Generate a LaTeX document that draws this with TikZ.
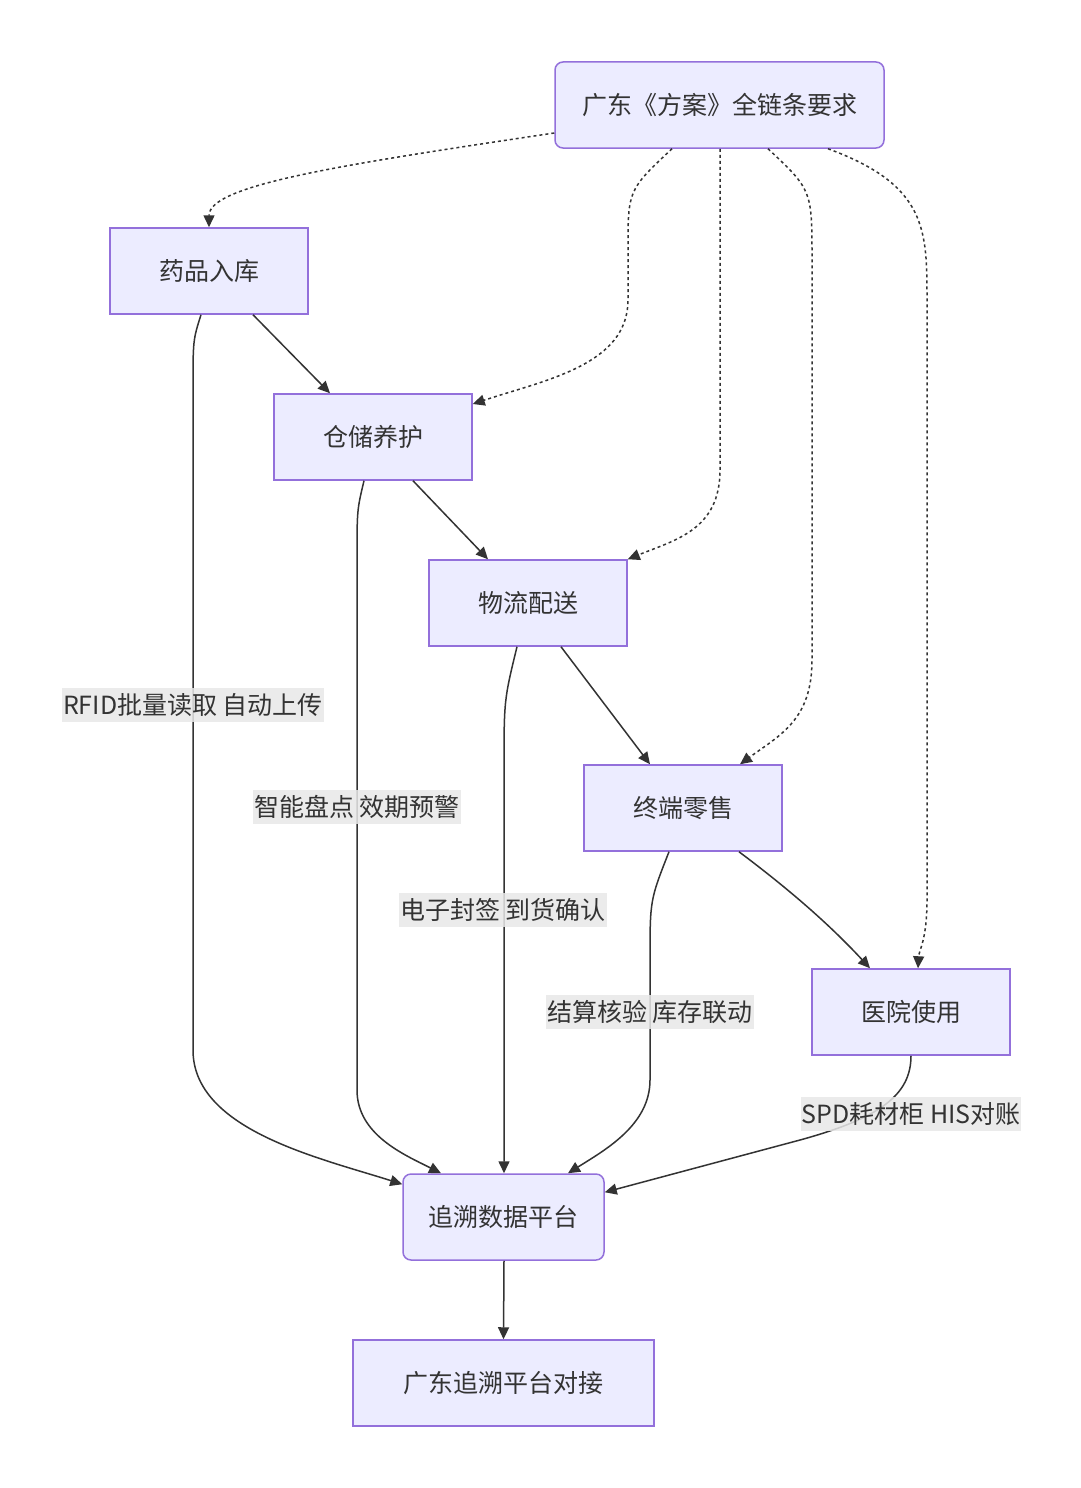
\documentclass[tikz,border=0pt]{standalone}
\usepackage{fontspec}
\newfontfamily\cjk{Noto Sans CJK SC}
\usetikzlibrary{arrows.meta}
\definecolor{boxfill}{HTML}{ECECFF}
\definecolor{boxline}{HTML}{9370DB}
\definecolor{linegray}{HTML}{333333}
\definecolor{lblfill}{HTML}{E8E8E8}
\tikzset{
  stepbox/.style={draw=boxline, fill=boxfill, line width=1.5pt, minimum width=198pt,
    minimum height=86pt, inner sep=0pt, text=linegray, font=\cjk\fontsize{25}{30}\selectfont},
  roundbox/.style={stepbox, rounded corners=8pt},
  flow/.style={draw=linegray, line width=1.5pt, -{Triangle[length=12pt,width=11pt]}},
  dotflow/.style={flow, dash pattern=on 3pt off 3pt},
  lbl/.style={fill=lblfill, fill opacity=0.85, text opacity=1, text=linegray,
    inner xsep=1pt, inner ysep=5pt, font=\cjk\fontsize{25}{30}\selectfont}
}
\begin{document}
\begin{tikzpicture}[x=1pt, y=-1pt]
  \useasboundingbox[fill=white] (0,0) rectangle (1080,1488);

  % 节点
  \node[roundbox, minimum width=329pt] (req) at (719.5,105) {广东《方案》全链条要求};
  \node[stepbox] (ruku) at (209,271) {药品入库};
  \node[stepbox] (cangchu) at (373,437) {仓储养护};
  \node[stepbox] (wuliu) at (528,603) {物流配送};
  \node[stepbox] (lingshou) at (683,808) {终端零售};
  \node[stepbox] (yiyuan) at (911,1012) {医院使用};
  \node[roundbox, minimum width=201pt] (pingtai) at (503.5,1217) {追溯数据平台};
  \node[stepbox, minimum width=301pt] (duijie) at (503.5,1383) {广东追溯平台对接};

  % 方案要求（虚线）
  \draw[dotflow] ([yshift=-28pt]req.west) .. controls (340,165) and (209,185) .. (ruku.north);
  \draw[dotflow] ([xshift=-47.5pt]req.south) .. controls (628,190) .. (628,250) -- (628,300)
    .. controls (628,365) and (545,380) .. ([yshift=33pt]cangchu.east);
  \draw[dotflow] ([xshift=0.5pt]req.south) -- (720,470)
    .. controls (720,530) and (675,540) .. (wuliu.north east);
  \draw[dotflow] ([xshift=48.5pt]req.south) .. controls (812,190) .. (812,260) -- (812,660)
    .. controls (812,720) and (780,735) .. ([xshift=57pt]lingshou.north);
  \draw[dotflow] ([xshift=108.5pt]req.south) .. controls (927,185) and (927,230) .. (927,300)
    -- (927,900) .. controls (927,940) and (919,950) .. ([xshift=7pt]yiyuan.north);

  % 主流程
  \draw[flow] ([xshift=44pt]ruku.south) -- ([xshift=-43pt]cangchu.north);
  \draw[flow] ([xshift=40pt]cangchu.south) -- ([xshift=-40pt]wuliu.north);
  \draw[flow] ([xshift=33pt]wuliu.south) -- ([xshift=-33pt]lingshou.north);
  \draw[flow] ([xshift=56pt]lingshou.south) .. controls (790,890) and (830,925) .. ([xshift=-41pt]yiyuan.north);
  \draw[flow] ([xshift=0.5pt]pingtai.south) -- (duijie.north);

  % 上传平台
  \draw[flow] ([xshift=-8pt]ruku.south) .. controls (193,340) .. (193,390) -- (193,1050)
    .. controls (193,1130) and (320,1158) .. ([yshift=-11pt]pingtai.north west);
  \draw[flow] ([xshift=-9pt]cangchu.south) .. controls (357,510) .. (357,560) -- (357,1090)
    .. controls (357,1135) and (405,1155) .. ([xshift=-62.5pt]pingtai.north);
  \draw[flow] ([xshift=-11pt]wuliu.south) .. controls (504,700) .. (504,770) -- ([xshift=0.5pt]pingtai.north);
  \draw[flow] ([xshift=-14pt]lingshou.south) .. controls (650,900) .. (650,960) -- (650,1080)
    .. controls (650,1125) and (605,1150) .. ([xshift=64.5pt]pingtai.north);
  \draw[flow] (yiyuan.south) .. controls (911,1095) and (880,1118) .. (800,1140)
    -- ([yshift=-19pt]pingtai.north east);

  % 标签
  \node[lbl] (l_rfid) at (193,705) {RFID批量读取 自动上传};
  \node[lbl] (l_pandian) at (357,807) {智能盘点 效期预警};
  \node[lbl] (l_fengqian) at (503,910) {电子封签 到货确认};
  \node[lbl] (l_jiesuan) at (650,1012) {结算核验 库存联动};
  \node[lbl] (l_spd) at (911,1114) {SPD耗材柜 HIS对账};
\end{tikzpicture}
\end{document}
